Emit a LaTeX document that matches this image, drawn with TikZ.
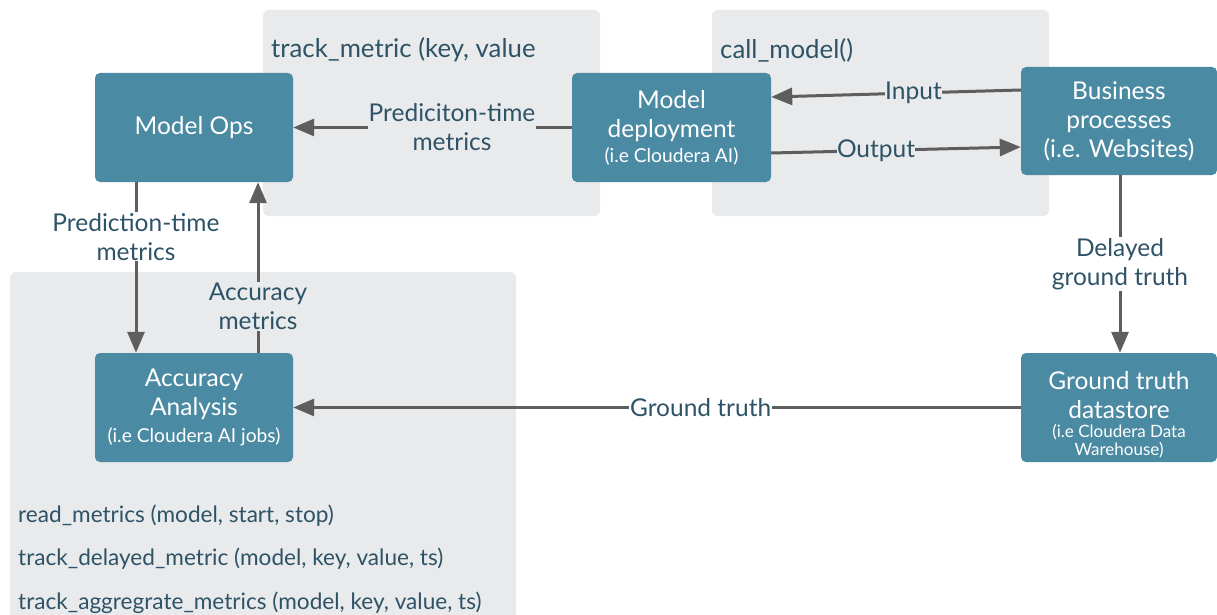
\documentclass[tikz,border=0pt]{standalone}
\usepackage{fontspec}
\setmainfont{Lato}
\usetikzlibrary{arrows.meta}
\definecolor{panel}{HTML}{E8EAEC}
\definecolor{teal}{HTML}{4B8AA3}
\definecolor{arrowc}{HTML}{5E5E5E}
\definecolor{txt}{HTML}{2E5367}
\newcommand{\subfs}{\fontsize{19.2}{22}\selectfont}
\newcommand{\tinyfs}{\fontsize{17}{18}\selectfont}
\tikzset{
  panelbox/.style={fill=panel, rounded corners=6pt, draw=none},
  procbox/.style={fill=teal, rounded corners=5pt, draw=none, text=white, align=center, inner sep=0pt, font=\fontsize{24.5}{29}\selectfont},
  arr/.style={draw=arrowc, line width=3pt, -{Triangle[length=21pt,width=17pt]}},
  lblw/.style={fill=white, text=txt, align=center, inner sep=1pt, font=\fontsize{24.5}{29}\selectfont},
  lblg/.style={fill=panel, text=txt, align=center, inner sep=1pt, font=\fontsize{24.5}{29}\selectfont},
  code/.style={text=txt, anchor=west, inner sep=0pt, font=\fontsize{22.6}{26}\selectfont},
  codetop/.style={code, font=\fontsize{25.8}{28}\selectfont}
}
\begin{document}
\begin{tikzpicture}[x=1pt,y=-1pt]
\useasboundingbox (0,0) rectangle (1217,615);
% panels
\fill[panelbox] (263,10) rectangle (600,216);
\fill[panelbox] (712,10) rectangle (1049,216);
\fill[panelbox] (10,272) rectangle (516,625);
% panel texts
\node[codetop] (t1) at (271,50) {track\_metric (key, value};
\node[codetop] (t2) at (720,50) {call\_model()};
\node[code] (t3) at (18,516) {read\_metrics (model, start, stop)};
\node[code] (t4) at (18,559) {track\_delayed\_metric (model, key, value, ts)};
\node[code] (t5) at (18,603) {track\_aggregrate\_metrics (model, key, value, ts)};
% boxes
\node[procbox, minimum width=198pt, minimum height=109pt] (ops) at (194,127.5) {Model Ops};
\node[procbox, minimum width=199pt, minimum height=109pt] (dep) at (671.5,127.5) {Model\\deployment\\[-4pt]\subfs (i.e Cloudera AI)};
\node[procbox, minimum width=196pt, minimum height=108pt] (bus) at (1119,121) {Business\\processes\\(i.e. Websites)};
\node[procbox, minimum width=196pt, minimum height=109pt] (gt) at (1119,407.5) {\rule{0pt}{32pt}Ground truth\\datastore\\[-10pt]\tinyfs (i.e Cloudera Data\\[-11pt]\tinyfs Warehouse)};
\node[procbox, minimum width=198pt, minimum height=109pt] (acc) at (194,407.5) {Accuracy\\Analysis\\[-2pt]\subfs (i.e Cloudera AI jobs)};
% connectors
\draw[arr] (dep.west) -- node[lblg, pos=0.43] {Prediciton-time\\metrics} (ops.east);
\draw[arr] ([yshift=31pt]bus.west) -- node[lblg, pos=0.43, inner sep=0pt] {Input} ([yshift=30.5pt]dep.east);
\draw[arr] ([yshift=-25.5pt]dep.east) -- node[lblg, pos=0.42, inner sep=0pt] {Output} ([yshift=-26pt]bus.west);
\draw[arr] ([xshift=-58pt]ops.south) -- node[lblw, pos=0.32] {Prediction-time\\metrics} ([xshift=-58pt]acc.north);
\draw[arr] ([xshift=64pt]acc.north) -- node[lblg, pos=0.27] {Accuracy\\metrics} ([xshift=64pt]ops.south);
\draw[arr] ([xshift=1pt]bus.south) -- node[lblw, pos=0.5] {Delayed\\ground truth} ([xshift=1pt]gt.north);
\draw[arr] (gt.west) -- node[lblw, pos=0.44] {Ground truth} (acc.east);
\end{tikzpicture}
\end{document}
